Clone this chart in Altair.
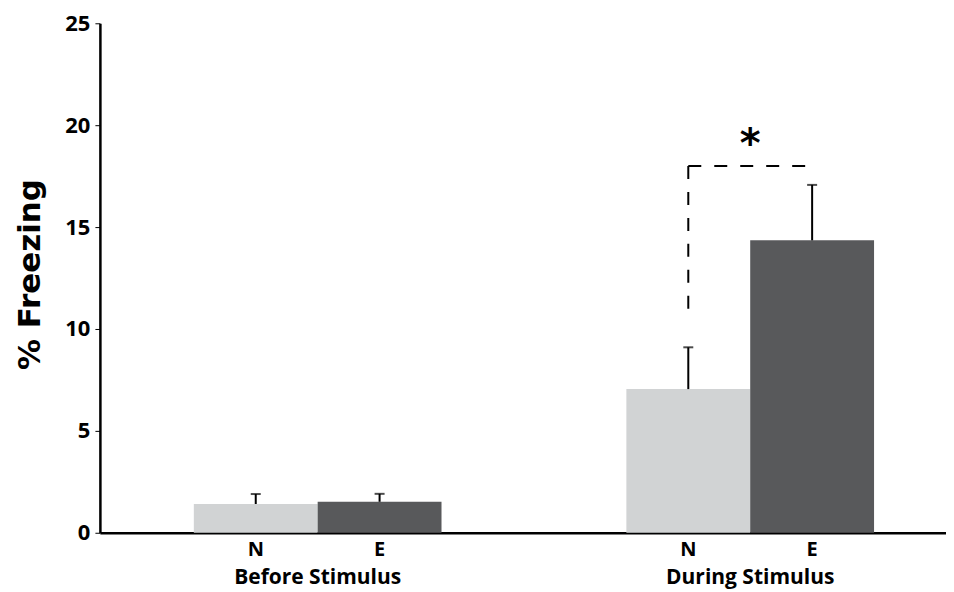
import altair as alt
import pandas as pd

# ---- data ----
groups = ["Before Stimulus", "Before Stimulus", "During Stimulus", "During Stimulus"]
conds = ["N", "E", "N", "E"]
means = [1.41, 1.52, 7.05, 14.35]
errors = [0.49, 0.39, 2.05, 2.72]

bracket_low = 10.6
bracket_high = 18.0
star_y = 19.05

df = pd.DataFrame({"group": groups, "cond": conds, "mean": means, "err": errors})
df["top"] = df["mean"] + df["err"]

sig_group = "During Stimulus"
vert_df = pd.DataFrame({"group": [sig_group], "cond": ["N"], "y": [bracket_high], "y2": [bracket_low]})
horiz_df = pd.DataFrame({"group": [sig_group, sig_group], "cond": ["N", "E"],
                         "y": [bracket_high, bracket_high], "o": [0, 1]})
star_df = pd.DataFrame({"group": [sig_group], "y": [star_y], "t": ["*"]})

LABEL_FONT = "Open Sans"
W, H = 847, 510

xscale = alt.Scale(domain=["Before Stimulus", "During Stimulus"],
                   paddingInner=0.0947, paddingOuter=0.0254, align=1)
yscale = alt.Scale(domain=[0, 25], nice=False, zero=True)
xoff = alt.XOffset("cond:N", sort=["N", "E"],
                   scale=alt.Scale(domain=["N", "E"], paddingOuter=0.581, paddingInner=0))

X = alt.X("group:N", scale=xscale, sort=["Before Stimulus", "During Stimulus"],
          axis=alt.Axis(title=None, labelAngle=0, ticks=False, domainColor="black",
                        domainWidth=2.5, labelFont=LABEL_FONT, labelFontSize=21,
                        labelFontWeight="bold", labelColor="black", labelPadding=34))
Y = alt.Y("mean:Q", scale=yscale,
          axis=alt.Axis(title="% Freezing", values=[0, 5, 10, 15, 20, 25], grid=False,
                        domainColor="black", domainWidth=2.5, tickColor="black",
                        tickSize=5, tickWidth=1, labelFont=LABEL_FONT, labelFontSize=22,
                        labelFontWeight="bold", labelColor="black", labelPadding=5,
                        titleFont="DejaVu Sans", titleFontSize=31, titleFontWeight="bold",
                        titleColor="black", titlePadding=18, titleY=H / 2 - 4))

bars = alt.Chart(df).mark_bar().encode(
    x=X, xOffset=xoff, y=Y,
    color=alt.Color("cond:N", scale=alt.Scale(domain=["N", "E"], range=["#D1D3D4", "#58595B"]),
                    legend=None),
)

err_rule = alt.Chart(df).mark_rule(color="black", strokeWidth=2).encode(
    x=alt.X("group:N", scale=xscale), xOffset=xoff,
    y=alt.Y("mean:Q", scale=yscale), y2="top:Q",
)
err_cap = alt.Chart(df).mark_tick(color="black", thickness=2, size=10, orient="horizontal").encode(
    x=alt.X("group:N", scale=xscale), xOffset=xoff,
    y=alt.Y("top:Q", scale=yscale),
)

cond_text = alt.Chart(df).mark_text(font=LABEL_FONT, fontSize=20, fontWeight="bold",
                                    color="black", baseline="middle").encode(
    x=alt.X("group:N", scale=xscale), xOffset=xoff,
    y=alt.value(H + 17), text="cond:N",
)

vert = alt.Chart(vert_df).mark_rule(color="black", strokeWidth=2, strokeDash=[13, 13]).encode(
    x=alt.X("group:N", scale=xscale), xOffset=xoff,
    y=alt.Y("y:Q", scale=yscale), y2="y2:Q",
)
horiz = alt.Chart(horiz_df).mark_line(color="black", strokeWidth=2, strokeDash=[13, 13]).encode(
    x=alt.X("group:N", scale=xscale), xOffset=xoff,
    y=alt.Y("y:Q", scale=yscale), order="o:Q",
)
star = alt.Chart(star_df).mark_text(font="DejaVu Sans", fontSize=40, fontWeight="bold",
                                    color="black", baseline="middle").encode(
    x=alt.X("group:N", scale=xscale), y=alt.Y("y:Q", scale=yscale), text="t:N",
)

chart = alt.layer(bars, err_rule, err_cap, cond_text, vert, horiz, star).properties(
    width=W, height=H,
    padding={"left": 6, "top": 4, "right": 0, "bottom": 8},
    background="white",
).configure_view(stroke=None)

chart.save("out.html", embed_options={"renderer": "svg", "actions": False})
